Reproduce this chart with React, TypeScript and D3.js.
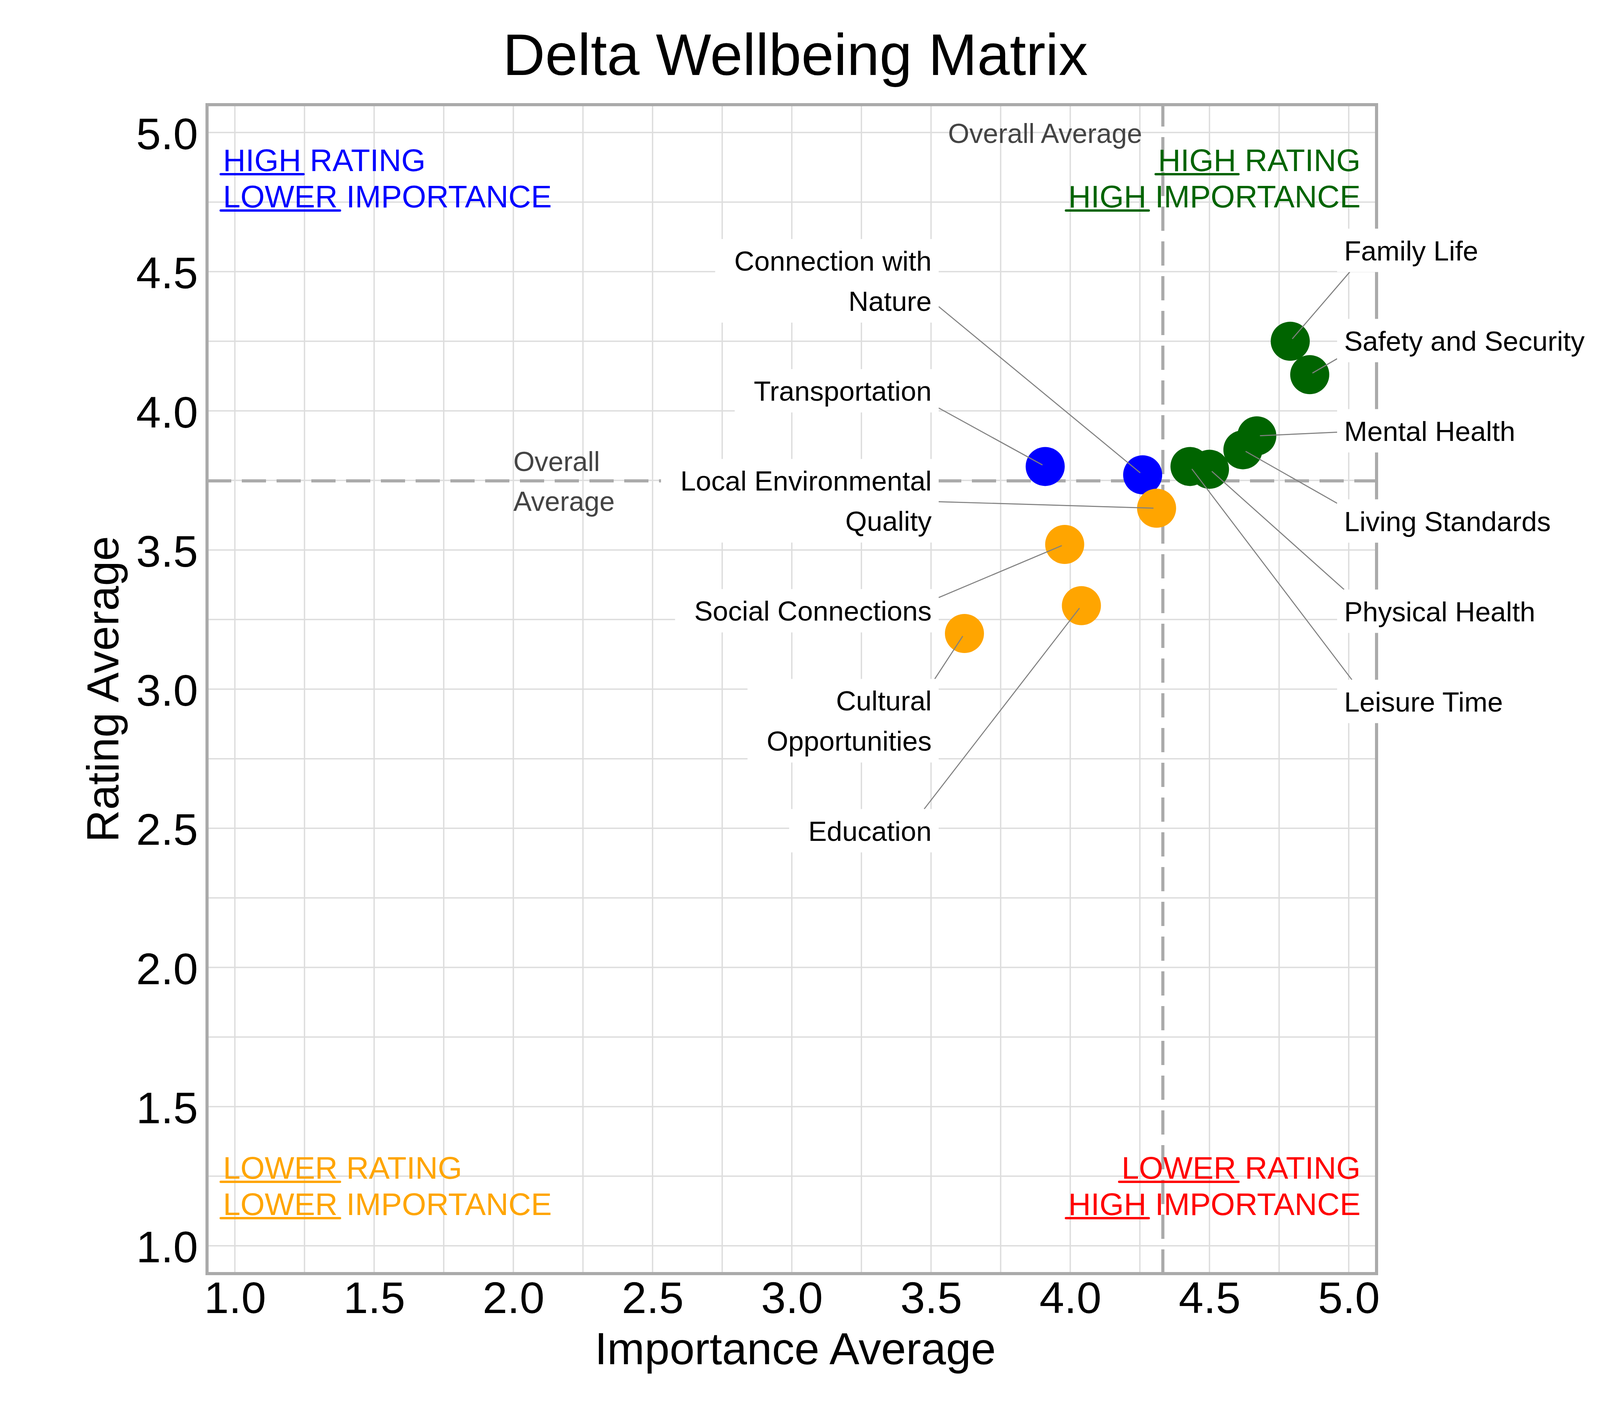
import React, { useEffect, useRef } from 'react';
import * as d3 from 'd3';

// wellbeing areas (order = stacking order of the callouts on each side)
const categories = [
  'Family Life',
  'Safety and Security',
  'Mental Health',
  'Living Standards',
  'Physical Health',
  'Leisure Time',
  'Connection with Nature',
  'Transportation',
  'Local Environmental Quality',
  'Social Connections',
  'Cultural Opportunities',
  'Education',
];
// how the names wrap inside the callouts
const labelLines = [
  ['Family Life'],
  ['Safety and Security'],
  ['Mental Health'],
  ['Living Standards'],
  ['Physical Health'],
  ['Leisure Time'],
  ['Connection with', 'Nature'],
  ['Transportation'],
  ['Local Environmental', 'Quality'],
  ['Social Connections'],
  ['Cultural', 'Opportunities'],
  ['Education'],
];
const importance = [4.79, 4.86, 4.67, 4.62, 4.5, 4.43, 4.26, 3.91, 4.31, 3.98, 3.62, 4.04];
const rating = [4.25, 4.13, 3.91, 3.86, 3.79, 3.8, 3.77, 3.8, 3.65, 3.52, 3.2, 3.3];

const tickValues = [1, 1.5, 2, 2.5, 3, 3.5, 4, 4.5, 5];
const gridValues = d3.range(1, 5.001, 0.25);

// quadrant captions: [underlined word, rest of line]
const captionHighHigh = [['HIGH', ' RATING'], ['HIGH', ' IMPORTANCE']];
const captionHighLow = [['HIGH', ' RATING'], ['LOWER', ' IMPORTANCE']];
const captionLowLow = [['LOWER', ' RATING'], ['LOWER', ' IMPORTANCE']];
const captionLowHigh = [['LOWER', ' RATING'], ['HIGH', ' IMPORTANCE']];

const FONT = '"Liberation Sans", Arial, Helvetica, sans-serif';
const GREEN = '#006400';
const BLUE = '#0000ff';
const ORANGE = '#ffa500';
const RED = '#ff0000';

const App: React.FC = () => {
  const svgRef = useRef<SVGSVGElement | null>(null);

  useEffect(() => {
    if (!svgRef.current) return;
    const svg = d3.select(svgRef.current);
    svg.selectAll('*').remove();

    const x = d3.scaleLinear().domain([0.9, 5.1]).range([530, 3524]);
    const y = d3.scaleLinear().domain([0.9, 5.1]).range([3261, 268]);
    const [left, right] = x.range();
    const [bottom, top] = y.range();
    const midX = 2036;

    const avgX = d3.mean(importance)!;
    const avgY = d3.mean(rating)!;
    const colorOf = (i: number) => {
      const hiX = importance[i] >= avgX;
      const hiY = rating[i] >= avgY;
      if (hiX && hiY) return GREEN;
      if (!hiX && hiY) return BLUE;
      if (!hiX && !hiY) return ORANGE;
      return RED;
    };

    // grid (every 0.25)
    const grid = svg.append('g');
    grid
      .selectAll('line.v')
      .data(gridValues)
      .join('line')
      .attr('class', 'v')
      .attr('x1', (d) => x(d))
      .attr('x2', (d) => x(d))
      .attr('y1', top)
      .attr('y2', bottom)
      .attr('stroke', '#dddddd')
      .attr('stroke-width', 3.5);
    grid
      .selectAll('line.h')
      .data(gridValues)
      .join('line')
      .attr('class', 'h')
      .attr('x1', left)
      .attr('x2', right)
      .attr('y1', (d) => y(d))
      .attr('y2', (d) => y(d))
      .attr('stroke', '#dddddd')
      .attr('stroke-width', 3.5);

    // frame
    svg
      .append('rect')
      .attr('x', left)
      .attr('y', top)
      .attr('width', right - left)
      .attr('height', bottom - top)
      .attr('fill', 'none')
      .attr('stroke', '#aaaaaa')
      .attr('stroke-width', 8);

    // axes (labels only)
    const fmt = d3.format('.1f');
    const xAxis = svg
      .append('g')
      .attr('transform', `translate(0,${bottom})`)
      .call(
        d3
          .axisBottom(x)
          .tickValues(tickValues)
          .tickFormat((d) => fmt(d as number))
          .tickSize(0)
          .tickPadding(20),
      );
    xAxis.select('.domain').remove();
    xAxis.selectAll('text').attr('font-size', 114).attr('font-family', FONT).attr('fill', '#000');

    const yAxis = svg
      .append('g')
      .attr('transform', `translate(${left},0)`)
      .call(
        d3
          .axisLeft(y)
          .tickValues(tickValues)
          .tickFormat((d) => fmt(d as number))
          .tickSize(0)
          .tickPadding(23),
      );
    yAxis.select('.domain').remove();
    yAxis
      .selectAll('text')
      .attr('font-size', 114)
      .attr('font-family', FONT)
      .attr('fill', '#000')
      .attr('dy', '0.37em');

    // overall average lines
    svg
      .append('line')
      .attr('x1', x(avgX))
      .attr('x2', x(avgX))
      .attr('y1', bottom)
      .attr('y2', top)
      .attr('stroke', '#aaaaaa')
      .attr('stroke-width', 8)
      .attr('stroke-dasharray', '62,27');
    svg
      .append('line')
      .attr('x1', left)
      .attr('x2', right)
      .attr('y1', y(avgY))
      .attr('y2', y(avgY))
      .attr('stroke', '#aaaaaa')
      .attr('stroke-width', 8)
      .attr('stroke-dasharray', '62,27');

    svg
      .append('text')
      .attr('x', x(avgX) - 53)
      .attr('y', top + 98)
      .attr('text-anchor', 'end')
      .attr('font-family', FONT)
      .attr('font-size', 70)
      .attr('fill', '#444444')
      .text('Overall Average');
    const avgTxt = svg
      .append('text')
      .attr('font-family', FONT)
      .attr('font-size', 70)
      .attr('fill', '#444444');
    avgTxt.append('tspan').attr('x', x(2)).attr('y', y(avgY) - 25).text('Overall');
    avgTxt.append('tspan').attr('x', x(2)).attr('y', y(avgY) + 77).text('Average');

    // quadrant captions
    const caption = (lines: string[][], color: string, anchor: 'start' | 'end', tx: number, firstBase: number) => {
      lines.forEach((parts, li) => {
        const t = svg
          .append('text')
          .attr('x', tx)
          .attr('y', firstBase + li * 93)
          .attr('text-anchor', anchor)
          .attr('font-family', FONT)
          .attr('font-size', 80)
          .attr('fill', color);
        const first = t.append('tspan').text(parts[0]);
        t.append('tspan').text(parts[1]);
        const bb = (t.node() as SVGTextElement).getBBox();
        const w = (first.node() as SVGTSpanElement).getComputedTextLength();
        svg
          .append('line')
          .attr('x1', bb.x - 6)
          .attr('x2', bb.x + w + 6)
          .attr('y1', firstBase + li * 93 + 8)
          .attr('y2', firstBase + li * 93 + 8)
          .attr('stroke', color)
          .attr('stroke-width', 6)
          .attr('stroke-linecap', 'round');
      });
    };
    caption(captionHighLow, BLUE, 'start', left + 41, top + 170);
    caption(captionHighHigh, GREEN, 'end', right - 41, top + 170);
    caption(captionLowLow, ORANGE, 'start', left + 41, bottom - 243);
    caption(captionLowHigh, RED, 'end', right - 41, bottom - 243);

    // points, drawn by quadrant
    const rank = [GREEN, BLUE, ORANGE, RED];
    const order = d3.range(categories.length).sort((a, b) => rank.indexOf(colorOf(a)) - rank.indexOf(colorOf(b)));
    svg
      .append('g')
      .selectAll('circle')
      .data(order)
      .join('circle')
      .attr('cx', (i) => x(importance[i]))
      .attr('cy', (i) => y(rating[i]))
      .attr('r', 50)
      .attr('fill', (i) => colorOf(i));

    // callouts
    const leftIdx = d3.range(categories.length).filter((i) => colorOf(i) !== GREEN);
    const rightIdx = d3.range(categories.length).filter((i) => colorOf(i) === GREEN);
    const lineGap = 103;
    const connectors = svg.append('g');
    const labels = svg.append('g');

    const callout = (i: number, side: 'left' | 'right', cy: number) => {
      const lines = labelLines[i];
      const boxH = 111 + (lines.length - 1) * lineGap;
      const firstBase = cy - boxH / 2 + 81;
      const tx = side === 'left' ? 2385 : 3441;
      const g = labels.append('g');
      const t = g
        .append('text')
        .attr('text-anchor', side === 'left' ? 'end' : 'start')
        .attr('font-family', FONT)
        .attr('font-size', 71)
        .attr('fill', '#000');
      lines.forEach((ln, k) => {
        t.append('tspan').attr('x', tx).attr('y', firstBase + k * lineGap).text(ln);
      });
      const w = (t.node() as SVGTextElement).getBBox().width;
      const bx0 = side === 'left' ? tx - w - 49 : tx - 18;
      const bx1 = side === 'left' ? tx + 18 : tx + w + 49;
      const by0 = cy - boxH / 2;
      const by1 = cy + boxH / 2;
      g.insert('rect', 'text')
        .attr('x', bx0)
        .attr('y', by0)
        .attr('width', bx1 - bx0)
        .attr('height', by1 - by0)
        .attr('fill', '#ffffff');

      // connector from inside the box to the point, clipped at the box edge
      const tailX = side === 'left' ? bx1 - 80 : bx0 + 80;
      const px = x(importance[i]);
      const py = y(rating[i]);
      const dx = px - tailX;
      const dy = py - cy;
      const tx1 = dx > 0 ? (bx1 - tailX) / dx : dx < 0 ? (bx0 - tailX) / dx : Infinity;
      const ty1 = dy > 0 ? (by1 - cy) / dy : dy < 0 ? (by0 - cy) / dy : Infinity;
      const te = Math.min(tx1, ty1);
      const len = Math.hypot(dx, dy);
      const tEnd = 1 - 8 / len;
      connectors
        .append('line')
        .attr('x1', tailX + dx * te)
        .attr('y1', cy + dy * te)
        .attr('x2', tailX + dx * tEnd)
        .attr('y2', cy + dy * tEnd)
        .attr('stroke', '#808080')
        .attr('stroke-width', 2.7);
    };
    leftIdx.forEach((i, k) => callout(i, 'left', top + 451 + k * 281.6));
    rightIdx.forEach((i, k) => callout(i, 'right', top + 373 + k * 231));

    // titles
    svg
      .append('text')
      .attr('x', midX)
      .attr('y', 192)
      .attr('text-anchor', 'middle')
      .attr('font-family', FONT)
      .attr('font-size', 150)
      .attr('fill', '#000')
      .text('Delta Wellbeing Matrix');
    svg
      .append('text')
      .attr('x', midX)
      .attr('y', 3493)
      .attr('text-anchor', 'middle')
      .attr('font-family', FONT)
      .attr('font-size', 115)
      .attr('fill', '#000')
      .text('Importance Average');
    svg
      .append('text')
      .attr('transform', `translate(303,${(top + bottom) / 2}) rotate(-90)`)
      .attr('text-anchor', 'middle')
      .attr('font-family', FONT)
      .attr('font-size', 115)
      .attr('fill', '#000')
      .text('Rating Average');
  }, []);

  return (
    <svg
      ref={svgRef}
      width={4200}
      height={3600}
      style={{ position: 'absolute', left: 0, top: 0, background: '#ffffff' }}
    />
  );
};

export default App;
